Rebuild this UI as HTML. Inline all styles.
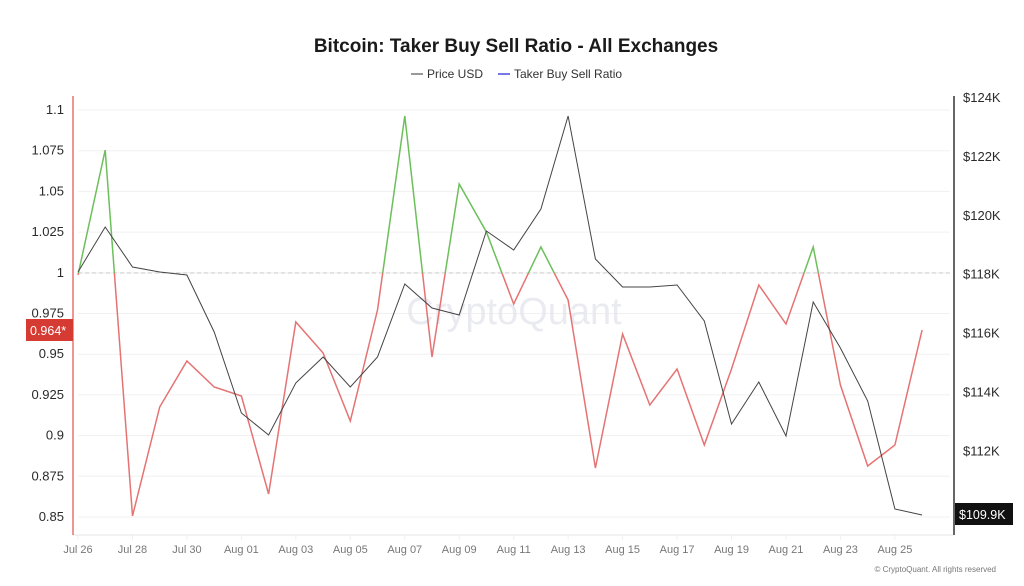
<!DOCTYPE html>
<html><head><meta charset="utf-8"><style>
html,body{margin:0;padding:0;background:#fff;width:1024px;height:586px;overflow:hidden}
text{font-family:"Liberation Sans",sans-serif}
</style></head><body>
<svg id="s" width="1024" height="586" viewBox="0 0 1024 586" xmlns="http://www.w3.org/2000/svg">
<rect width="1024" height="586" fill="#fff"/>
<text x="516" y="52" text-anchor="middle" font-size="19" font-weight="bold" fill="#1a1a1a">Bitcoin: Taker Buy Sell Ratio - All Exchanges</text>
<line x1="411" y1="74" x2="423" y2="74" stroke="#555" stroke-width="1.2"/>
<text x="427" y="78" font-size="12" fill="#333">Price USD</text>
<line x1="498" y1="74" x2="510" y2="74" stroke="#4a4adf" stroke-width="1.5"/>
<text x="514" y="78" font-size="12" fill="#333">Taker Buy Sell Ratio</text>
<g id="grid" stroke="#f0f0f0" stroke-width="1"></g>
<line x1="78" y1="273" x2="950" y2="273" stroke="#ccc" stroke-dasharray="4,3"/>
<line x1="73" y1="535" x2="954" y2="535" stroke="#e4e4e4"/>
<line x1="73" y1="96" x2="73" y2="535" stroke="#e57373" stroke-width="1.5"/>
<line x1="954" y1="96" x2="954" y2="535" stroke="#333" stroke-width="1.5"/>
<g id="lab" font-size="13" fill="#2a2a2a"></g>
<g id="xl" font-size="11" fill="#777" text-anchor="middle"></g>
<defs>
<clipPath id="up"><rect x="0" y="0" width="1024" height="273"/></clipPath>
<clipPath id="dn"><rect x="0" y="273" width="1024" height="313"/></clipPath>
</defs>
<text x="514" y="324" text-anchor="middle" font-size="38" fill="#e6e6ee" opacity="0.8">CryptoQuant</text>
<polyline id="rg" fill="none" stroke="#6cbf5a" stroke-width="1.5" clip-path="url(#up)"/>
<polyline id="rr" fill="none" stroke="#e57373" stroke-width="1.5" clip-path="url(#dn)"/>
<polyline id="pr" fill="none" stroke="#444" stroke-width="1"/>
<rect x="26" y="319" width="47" height="22" fill="#d63b33"/>
<text x="30" y="335" font-size="12.5" fill="#fff">0.964*</text>
<rect x="955" y="503" width="58" height="22" fill="#111"/>
<text x="959" y="519" font-size="12.5" fill="#fff">$109.9K</text>
<text x="996" y="572" text-anchor="end" font-size="8" fill="#777">© CryptoQuant. All rights reserved</text>
</svg>
<script>
var r=[275,150,516,407,361,387,396,494,322,353,421,310,116,357,184,232,304,247,300,468,334,405,369,445,369,285,324,247,385,466,445,330];
var p=[272,227,267,272,275,332,413,435,383,357,387,357,284,308,315,231,250,209,116,259,287,287,285,321,424,382,436,302,348,401,509,515];
function X(i){return 78+27.23*i}
var rs=r.map(function(v,i){return X(i).toFixed(1)+','+v}).join(' ');
document.getElementById('rg').setAttribute('points',rs);
document.getElementById('rr').setAttribute('points',rs);
document.getElementById('pr').setAttribute('points',p.map(function(v,i){return X(i).toFixed(1)+','+v}).join(' '));
var ns='http://www.w3.org/2000/svg';
function el(t,a,par,txt){var e=document.createElementNS(ns,t);for(var k in a)e.setAttribute(k,a[k]);if(txt)e.textContent=txt;document.getElementById(par).appendChild(e);}
var L=['1.1','1.075','1.05','1.025','1','0.975','0.95','0.925','0.9','0.875','0.85'];
L.forEach(function(t,i){var y=110+i*40.7;el('line',{x1:78,y1:y,x2:950,y2:y},'grid');el('text',{x:64,y:y+4,'text-anchor':'end'},'lab',t);});
var R=['$124K','$122K','$120K','$118K','$116K','$114K','$112K'];
R.forEach(function(t,i){var y=98+i*58.9;el('text',{x:963,y:y+4},'lab',t);});
var D=['Jul 26','Jul 28','Jul 30','Aug 01','Aug 03','Aug 05','Aug 07','Aug 09','Aug 11','Aug 13','Aug 15','Aug 17','Aug 19','Aug 21','Aug 23','Aug 25'];
D.forEach(function(t,i){var x=X(i*2);el('line',{x1:x,y1:535,x2:x,y2:540},'grid');el('text',{x:x,y:553},'xl',t);});
</script>
</body></html>
